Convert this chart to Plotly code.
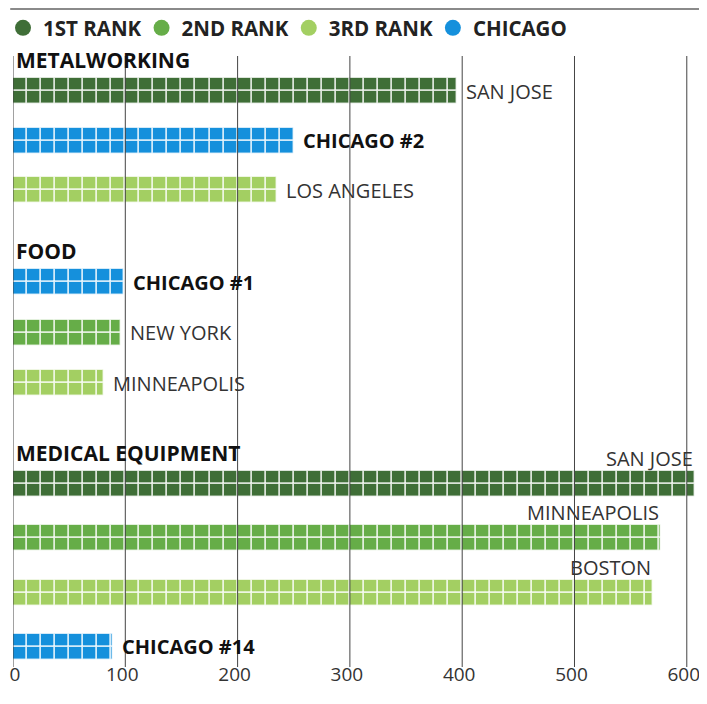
import math

import plotly.graph_objects as go

# --- data -------------------------------------------------------------
groups = ["METALWORKING", "FOOD", "MEDICAL EQUIPMENT"]

metal_cities = ["SAN JOSE", "CHICAGO #2", "LOS ANGELES"]
metal_values = [395, 250, 235]
metal_kinds = ["1st", "chicago", "3rd"]

food_cities = ["CHICAGO #1", "NEW YORK", "MINNEAPOLIS"]
food_values = [99, 96, 81]
food_kinds = ["chicago", "2nd", "3rd"]

medical_cities = ["SAN JOSE", "MINNEAPOLIS", "BOSTON", "CHICAGO #14"]
medical_values = [607, 577, 570, 89]
medical_kinds = ["1st", "2nd", "3rd", "chicago"]

legend_names = ["1ST RANK", "2ND RANK", "3RD RANK", "CHICAGO"]
legend_kinds = ["1st", "2nd", "3rd", "chicago"]
x_ticks = [0, 100, 200, 300, 400, 500, 600]
# the first label is nudged off the left edge with two no-break spaces
x_tick_labels = ["\u00a0\u00a00", "100", "200", "300", "400", "500", "600"]

# --- style ------------------------------------------------------------
COLORS = {
    "1st": "#3f6e37",
    "2nd": "#66ad48",
    "3rd": "#a3cf62",
    "chicago": "#1590dc",
}
FONT = "Open Sans"
TEXT = "#333333"
CELL = 12.5          # value units per cell
ROW_H = 13           # px, each bar is two rows of cells

# the page body keeps its default 8px margin, so the figure is shrunk by it
# (and kept short enough that the page never scrolls)
PAGE_MARGIN = 8
WIDTH, HEIGHT = 707 - PAGE_MARGIN, 704 - 2 * PAGE_MARGIN
PLOT_LEFT = 13       # page px where x = 0
PLOT_BOTTOM = 667    # page px, y axis is laid out in page pixels
X_MAX = 618

# vertical layout: (header y, gap header->bar, pitch) per group
LAYOUT = [(60, 31, 49.5), (251, 31, 50.5), (453, 31, 54.3)]


def cells(value):
    starts, widths = [], []
    n = math.floor(value / CELL)
    for i in range(n):
        starts.append(i * CELL)
        widths.append(CELL)
    rest = value - n * CELL
    if rest > 0.5:
        starts.append(n * CELL)
        widths.append(rest)
    return starts, widths


fig = go.Figure()
annotations = []

data = [
    (metal_cities, metal_values, metal_kinds),
    (food_cities, food_values, food_kinds),
    (medical_cities, medical_values, medical_kinds),
]

for g, (name, (cities, values, kinds)) in enumerate(zip(groups, data)):
    header_y, header_gap, pitch = LAYOUT[g]
    annotations.append(dict(
        x=0, y=header_y, xref="x", yref="y", text=name, showarrow=False,
        xanchor="left", yanchor="middle", xshift=1,
        font=dict(family=FONT, size=21, color="#111111", weight="bold"),
    ))
    for i, (city, value, kind) in enumerate(zip(cities, values, kinds)):
        yc = header_y + header_gap + i * pitch
        starts, widths = cells(value)
        for row_y in (yc - ROW_H / 2, yc + ROW_H / 2):
            fig.add_trace(go.Bar(
                x=widths, base=starts, y=[row_y] * len(widths),
                orientation="h", width=ROW_H,
                marker=dict(color=COLORS[kind],
                            line=dict(color="rgba(255,255,255,0.75)", width=1.5)),
                showlegend=False, hoverinfo="skip",
            ))
        is_chicago = kind == "chicago"
        font = dict(family=FONT, size=20,
                    color="#111111" if is_chicago else TEXT,
                    weight="bold" if is_chicago else "normal")
        if value > 450:
            # no room on the right: put the name above the bar end
            annotations.append(dict(
                x=value, y=yc - ROW_H, xref="x", yref="y", text=city,
                showarrow=False, xanchor="right", yanchor="bottom",
                yshift=-3, font=font,
            ))
        else:
            annotations.append(dict(
                x=value, y=yc, xref="x", yref="y", text=city,
                showarrow=False, xanchor="left", yanchor="middle",
                xshift=7, font=font,
            ))

for name, kind in zip(legend_names, legend_kinds):
    fig.add_trace(go.Scatter(
        x=[None], y=[None], mode="markers", name=name,
        marker=dict(symbol="circle", size=18, color=COLORS[kind]),
    ))

shapes = [dict(
    type="line", xref="paper", yref="y", x0=-0.004, x1=1,
    y0=PAGE_MARGIN + 1, y1=PAGE_MARGIN + 1,
    line=dict(color="#8a8a8a", width=2),
)]
for t in x_ticks:
    shapes.append(dict(
        type="line", xref="x", yref="y", x0=t, x1=t,
        y0=LAYOUT[0][0] - 4, y1=PLOT_BOTTOM,
        line=dict(color="#444444", width=1), layer="above",
    ))

fig.update_layout(
    width=WIDTH, height=HEIGHT,
    margin=dict(l=PLOT_LEFT - PAGE_MARGIN, r=0, t=0,
                b=HEIGHT + PAGE_MARGIN - PLOT_BOTTOM, autoexpand=False),
    plot_bgcolor="white", paper_bgcolor="white",
    barmode="overlay", bargap=0,
    showlegend=True,
    legend=dict(
        orientation="h", xref="container", yref="container",
        x=0, y=1, xanchor="left", yanchor="top", indentation=-5,
        font=dict(family=FONT, size=20.5, color="#222222", weight="bold"),
        itemclick=False, itemdoubleclick=False,
        bgcolor="rgba(0,0,0,0)", tracegroupgap=0,
    ),
    xaxis=dict(
        range=[0, X_MAX], tickvals=x_ticks, ticktext=x_tick_labels,
        showgrid=False, zeroline=False,
        showline=False, ticks="", fixedrange=True, ticklabeloverflow="allow",
        ticklabelshift=-3, ticklabelstandoff=-6,
        tickfont=dict(family=FONT, size=19, color=TEXT),
    ),
    yaxis=dict(
        range=[PLOT_BOTTOM, PAGE_MARGIN], visible=False, showgrid=False,
        zeroline=False, fixedrange=True,
    ),
    shapes=shapes,
    annotations=annotations,
)

fig.write_html("out.html")
